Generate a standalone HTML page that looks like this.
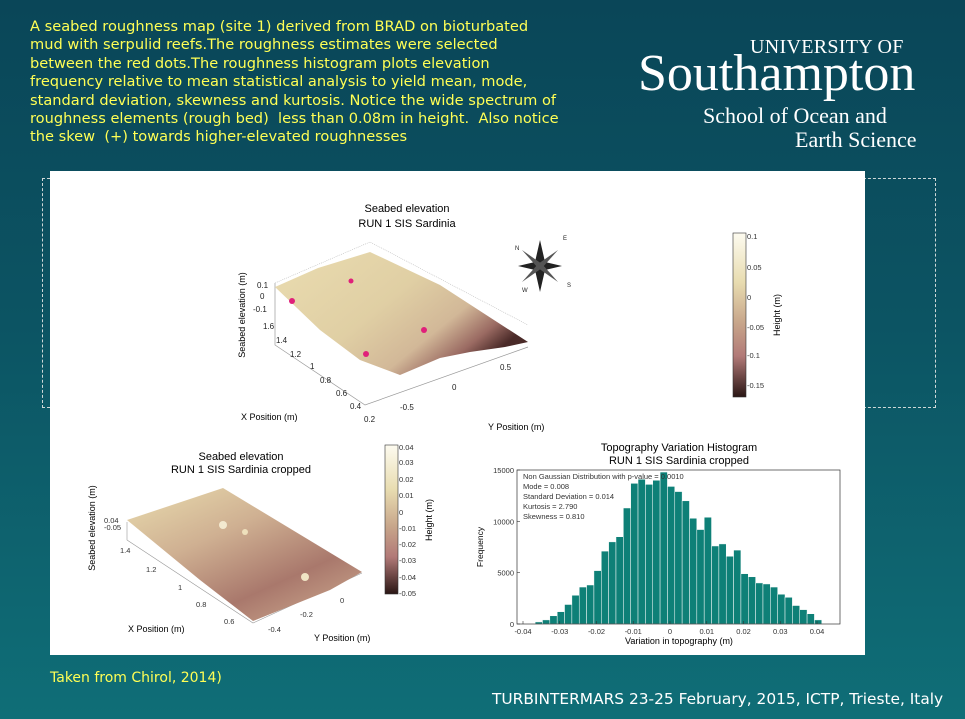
<!DOCTYPE html>
<html><head><meta charset="utf-8">
<style>
html,body{margin:0;padding:0;width:965px;height:719px;overflow:hidden}
body{background:linear-gradient(180deg,#0a4658 0%,#0c5463 45%,#0f6e77 100%);font-family:"Liberation Sans",sans-serif;position:relative}
.yt{position:absolute;color:#ffff55;font-family:"DejaVu Sans",sans-serif;font-size:14.6px;line-height:18.4px;left:30px;top:18px;width:590px;white-space:nowrap}
.logo{position:absolute;color:#fff;font-family:"Liberation Serif",serif;white-space:nowrap}
.foot{position:absolute;color:#fff;font-family:"DejaVu Sans",sans-serif;font-size:15.4px;left:492px;top:690px;white-space:nowrap}
.src{position:absolute;color:#ffff55;font-family:"DejaVu Sans",sans-serif;font-size:14px;left:50px;top:670px}
svg text{font-family:"Liberation Sans",sans-serif}
</style></head><body>
<div class="yt">A seabed roughness map (site 1) derived from BRAD on bioturbated<br>mud with serpulid reefs.The roughness estimates were selected<br>between the red dots.The roughness histogram plots elevation<br>frequency relative to mean statistical analysis to yield mean, mode,<br>standard deviation, skewness and kurtosis. Notice the wide spectrum of<br>roughness elements (rough bed)&nbsp; less than 0.08m in height.&nbsp; Also notice<br>the skew&nbsp; (+) towards higher-elevated roughnesses</div>
<div class="logo" style="left:750px;top:36px;font-size:20px;letter-spacing:0.3px">UNIVERSITY OF</div>
<div class="logo" style="left:638px;top:44px;font-size:52px;letter-spacing:0px">Southampton</div>
<div class="logo" style="left:703px;top:103px;font-size:22px">School of Ocean and</div>
<div class="logo" style="left:795px;top:127px;font-size:22px">Earth Science</div>
<div style="position:absolute;left:42px;top:178px;width:892px;height:228px;border:1px dashed #cfd8d8"></div>
<div style="position:absolute;left:50px;top:171px;width:815px;height:484px;background:#fff"></div>
<div class="src">Taken from Chirol, 2014)</div>
<div class="foot">TURBINTERMARS 23-25 February, 2015, ICTP, Trieste, Italy</div>

<svg width="965" height="719" style="position:absolute;left:0;top:0">
<defs>
<linearGradient id="cb" x1="0" y1="0" x2="0" y2="1">
<stop offset="0" stop-color="#fdfbf0"/><stop offset="0.3" stop-color="#e8dcb0"/><stop offset="0.55" stop-color="#c7a58a"/><stop offset="0.75" stop-color="#b27a78"/><stop offset="1" stop-color="#2a1614"/></linearGradient>
<linearGradient id="s1" x1="0" y1="0" x2="1" y2="0.6">
<stop offset="0" stop-color="#eadcb0"/><stop offset="0.5" stop-color="#e0cfa4"/><stop offset="0.75" stop-color="#d2b898"/><stop offset="0.9" stop-color="#9a6a62"/><stop offset="1" stop-color="#4a2a28"/></linearGradient>
<linearGradient id="s2" x1="0" y1="0" x2="0.8" y2="1">
<stop offset="0" stop-color="#e9dcae"/><stop offset="0.4" stop-color="#cfb092"/><stop offset="0.75" stop-color="#a9786c"/><stop offset="1" stop-color="#c6a088"/></linearGradient>
</defs>
<g>
<polyline points="275,283 275,345 365,405 528,347" fill="none" stroke="#999" stroke-width="0.7"/>
<polyline points="275,283 370,242 528,325" fill="none" stroke="#bbb" stroke-width="0.6" stroke-dasharray="1,1"/>
<polygon points="275,287 318,268 370,252 440,285 528,342 505,347 470,352 440,358 400,375 360,360 320,330" fill="url(#s1)"/>
<circle cx="292" cy="301" r="3" fill="#e0207a"/><circle cx="351" cy="281" r="2.5" fill="#e0207a"/><circle cx="424" cy="330" r="3" fill="#e0207a"/><circle cx="366" cy="354" r="3" fill="#e0207a"/>
</g>
<text x="407" y="212" font-size="11" text-anchor="middle">Seabed elevation</text>
<text x="407" y="227" font-size="11" text-anchor="middle">RUN 1 SIS Sardinia</text>
<text transform="translate(245,315) rotate(-90)" font-size="9" text-anchor="middle">Seabed elevation (m)</text>
<g font-size="8" fill="#222">
<text x="257" y="288">0.1</text><text x="260" y="299">0</text><text x="253" y="312">-0.1</text>
<text x="263" y="329">1.6</text><text x="276" y="343">1.4</text><text x="290" y="357">1.2</text><text x="310" y="369">1</text><text x="320" y="383">0.8</text><text x="336" y="396">0.6</text><text x="350" y="409">0.4</text><text x="364" y="422">0.2</text>
<text x="400" y="410">-0.5</text><text x="452" y="390">0</text><text x="500" y="370">0.5</text>
</g>
<text x="241" y="420" font-size="9">X Position (m)</text>
<text x="488" y="430" font-size="9">Y Position (m)</text>
<g fill="#222">
<polygon points="540,240 545,262 562,266 545,270 540,292 535,270 518,266 535,262"/>
<polygon points="522,250 542,264 558,282 538,268" fill="#555"/>
<polygon points="558,250 542,268 522,282 538,264" fill="#555"/>
<text x="515" y="250" font-size="6">N</text><text x="563" y="240" font-size="6">E</text><text x="567" y="287" font-size="6">S</text><text x="522" y="292" font-size="6">W</text>
</g>
<rect x="733" y="233" width="13" height="164" fill="url(#cb)" stroke="#333" stroke-width="0.6"/>
<g font-size="7.5" fill="#333">
<text x="747" y="239">0.1</text><text x="747" y="270">0.05</text><text x="747" y="300">0</text><text x="747" y="330">-0.05</text><text x="747" y="358">-0.1</text><text x="747" y="388">-0.15</text>
</g>
<text transform="translate(780,315) rotate(-90)" font-size="9" text-anchor="middle">Height (m)</text>

<g>
<polyline points="127,522 127,540 253,623 362,573" fill="none" stroke="#999" stroke-width="0.6"/>
<polygon points="127,520 223,488 362,572 330,590 253,621 200,580" fill="url(#s2)"/>
<circle cx="223" cy="525" r="4" fill="#f3ead0"/><circle cx="305" cy="577" r="4" fill="#f0e4c4"/><circle cx="245" cy="532" r="3" fill="#eee0bc"/>
</g>
<text x="241" y="460" font-size="11" text-anchor="middle">Seabed elevation</text>
<text x="241" y="473" font-size="11" text-anchor="middle">RUN 1 SIS Sardinia cropped</text>
<text transform="translate(95,528) rotate(-90)" font-size="9" text-anchor="middle">Seabed elevation (m)</text>
<g font-size="7.5" fill="#333">
<text x="104" y="523">0.04</text><text x="104" y="530">-0.05</text>
<text x="120" y="553">1.4</text><text x="146" y="572">1.2</text><text x="178" y="590">1</text><text x="196" y="607">0.8</text><text x="224" y="624">0.6</text>
<text x="268" y="632">-0.4</text><text x="300" y="617">-0.2</text><text x="340" y="603">0</text>
</g>
<text x="128" y="632" font-size="9">X Position (m)</text>
<text x="314" y="641" font-size="9">Y Position (m)</text>
<rect x="385" y="445" width="13" height="149" fill="url(#cb)" stroke="#333" stroke-width="0.6"/>
<g font-size="7.5" fill="#333">
<text x="399" y="450">0.04</text><text x="399" y="465">0.03</text><text x="399" y="482">0.02</text><text x="399" y="498">0.01</text><text x="399" y="515">0</text><text x="399" y="531">-0.01</text><text x="399" y="547">-0.02</text><text x="399" y="563">-0.03</text><text x="399" y="580">-0.04</text><text x="399" y="596">-0.05</text>
</g>
<text transform="translate(432,520) rotate(-90)" font-size="9" text-anchor="middle">Height (m)</text>

<text x="679" y="451" font-size="11" text-anchor="middle">Topography Variation Histogram</text>
<text x="679" y="464" font-size="11" text-anchor="middle">RUN 1 SIS Sardinia cropped</text>
<g id="hist"></g>
<text x="679" y="644" font-size="9" text-anchor="middle">Variation in topography (m)</text>
<text transform="translate(483,547) rotate(-90)" font-size="8.5" text-anchor="middle">Frequency</text>
<g font-size="7.5" fill="#333">
<text x="523" y="479">Non Gaussian Distribution with p-value = 0.0010</text>
<text x="523" y="489">Mode = 0.008</text>
<text x="523" y="499">Standard Deviation = 0.014</text>
<text x="523" y="509">Kurtosis = 2.790</text>
<text x="523" y="519">Skewness = 0.810</text>
</g>
</svg>
<script>
const binStart = -0.0367;
const binWidth = 0.002;
const freqs = [200,400,800,1200,1900,2800,3600,3800,5200,7100,8000,8500,11300,13700,14100,13600,14000,14800,13400,12900,12000,10300,9200,10400,7600,7800,6600,7200,4900,4600,4000,3900,3600,2900,2600,1800,1400,1000,400];
const xTicks = [-0.04,-0.03,-0.02,-0.01,0,0.01,0.02,0.03,0.04];
const xTickLabels = ['-0.04','-0.03','-0.02','-0.01','0','0.01','0.02','0.03','0.04'];
const yTicks = [0,5000,10000,15000];
const NS='http://www.w3.org/2000/svg';
const L=517,R=840,T=470,B=624;
const xs=v=>523+(v+0.04)/0.08*294;
const ys=v=>B-(v/15000)*(B-T);
const g=document.getElementById('hist');
function mk(t,a){const e=document.createElementNS(NS,t);for(const k in a)e.setAttribute(k,a[k]);g.appendChild(e);return e;}
freqs.forEach((f,i)=>{
  const x0=xs(binStart+i*binWidth),x1=xs(binStart+(i+1)*binWidth);
  const r=mk('rect',{x:x0,y:ys(f),width:x1-x0,height:B-ys(f),fill:'#0e8077',stroke:'#fff','stroke-width':0.5});
  
  
});
const fr=mk('rect',{x:L,y:T,width:R-L,height:B-T,fill:'none',stroke:'#333','stroke-width':0.7});


xTicks.forEach((v,i)=>{
  mk('line',{x1:xs(v),x2:xs(v),y1:B,y2:B-3,stroke:'#333','stroke-width':0.6});
  const t=mk('text',{x:xs(v),y:B+10,'font-size':7.5,'text-anchor':'middle',fill:'#333'});
  t.textContent=xTickLabels[i];
  
  
});
yTicks.forEach(v=>{
  mk('line',{x1:L,x2:L+3,y1:ys(v),y2:ys(v),stroke:'#333','stroke-width':0.6});
  const t=mk('text',{x:L-3,y:ys(v)+3,'font-size':7.5,'text-anchor':'end',fill:'#333'});
  t.textContent=String(v);
  
  
});
</script>
</body></html>
